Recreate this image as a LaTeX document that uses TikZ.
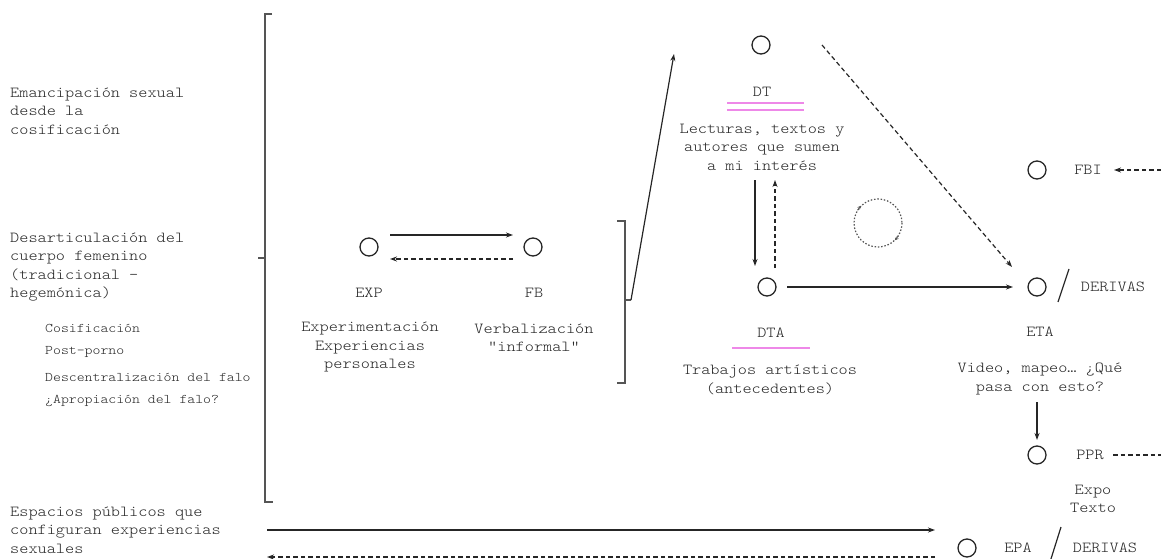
\documentclass[tikz,border=0pt]{standalone}
\usepackage{fontspec}
\setmainfont{Latin Modern Mono Light}[FakeStretch=1.14]
\usetikzlibrary{arrows.meta}
\definecolor{ink}{HTML}{262626}
\definecolor{brk}{HTML}{555555}
\definecolor{pink}{HTML}{EE88E8}
\begin{document}
\begin{tikzpicture}[x=1pt,y=-1pt,
  txt/.style={font=\fontsize{15.3}{18.4}\selectfont, text=ink, inner sep=0pt},
  sml/.style={font=\fontsize{13.2}{15}\selectfont, text=ink, inner sep=0pt, anchor=west},
  circ/.style={circle, draw=ink, minimum size=18pt, inner sep=0pt, line width=1.3pt},
  arr/.style={draw=ink, line width=1.2pt, -{Stealth[length=7pt,width=5pt]}},
  ln/.style={draw=ink, line width=1.2pt},
  dsh/.style={dash pattern=on 4.5pt off 3pt},
  brack/.style={draw=brk, line width=1.4pt},
  pinkln/.style={draw=pink, line width=2.2pt}]
\useasboundingbox (0,0) rectangle (1161,559);

% left texts
\node[txt, anchor=west, align=left] (eman) at (10,111) {Emancipación sexual\\desde la\\cosificación};
\node[txt, anchor=west, align=left] (desa) at (10,267) {Desarticulación del\\cuerpo femenino\\(tradicional -\\hegemónica)};
\node[sml] (s1) at (45,328) {Cosificación};
\node[sml] (s2) at (45,352) {Post-porno};
\node[sml] (s3) at (45,377) {Descentralización del falo};
\node[sml] (s4) at (45,401) {¿Apropiación del falo?};
\node[txt, anchor=west, align=left] (esp) at (10,530) {Espacios públicos que\\configuran experiencias\\sexuales};

% big bracket
\draw[brack] (272,14) -- (265,14) -- (265,502) -- (273,502);
\draw[brack] (258,258) -- (265,258);

% EXP / FB
\node[circ] (exp) at (369,247) {};
\node[circ] (fb) at (533,247) {};
\coordinate (e1) at (390,235); \coordinate (f1) at (513,235);
\coordinate (e2) at (390,259); \coordinate (f2) at (513,259);
\draw[arr] (e1) -- (f1);
\draw[arr, dsh] (f2) -- (e2);
\node[txt] (explab) at (369,293) {EXP};
\node[txt] (fblab) at (534,293) {FB};
\node[txt, align=center] (expt) at (370,347) {Experimentación\\Experiencias\\personales};
\node[txt, align=center] (fbt) at (534,338) {Verbalización\\“informal”};

% right bracket and arrow to DT
\draw[brack] (617,221) -- (625,221) -- (625,383) -- (617,383);
\coordinate (bm) at (625,300);
\coordinate (bt) at (631,300);
\coordinate (dtin) at (674,54);
\draw[brack] (bm) -- (bt);
\draw[arr] (bt) -- (dtin);

% DT
\node[circ] (dt) at (761,45) {};
\node[txt] (dtlab) at (762,92) {DT};
\draw[pinkln] (727,103) -- (804,103);
\draw[pinkln] (727,110) -- (804,110);
\node[txt, align=center] (dtt) at (762,147) {Lecturas, textos y\\autores que sumen\\a mi interés};

% DTA
\node[circ] (dta) at (767,287) {};
\coordinate (d1) at (755,180); \coordinate (d2) at (755,266);
\coordinate (u1) at (775,268); \coordinate (u2) at (775,180);
\draw[arr] (d1) -- (d2);
\draw[arr, dsh] (u1) -- (u2);
\node[txt] (dtalab) at (771,333) {DTA};
\draw[pinkln] (732,348) -- (810,348);
\node[txt, align=center] (dtat) at (770,380) {Trabajos artísticos\\(antecedentes)};

% cycle
\coordinate (cyc) at (878,223);
\draw[draw=brk, line width=1.2pt, dash pattern=on 1.5pt off 1.8pt] (cyc) circle[radius=24];
\draw[draw=brk, line width=0.8pt, -{Stealth[length=4pt,width=3.5pt]}] (cyc) ++(212:24) arc[start angle=212, end angle=226, radius=24];
\draw[draw=brk, line width=0.8pt, -{Stealth[length=4pt,width=3.5pt]}] (cyc) ++(32:24) arc[start angle=32, end angle=46, radius=24];

% ETA
\node[circ] (eta) at (1037,287) {};
\coordinate (a1) at (787,287); \coordinate (a2) at (1013,287);
\draw[arr] (a1) -- (a2);
\coordinate (dtout) at (822,45);
\coordinate (etain) at (1012,267);
\draw[arr, dsh] (dtout) -- (etain);
\draw[ln] (1069,269) -- (1058,302);
\node[txt] (der1) at (1113,287) {DERIVAS};
\node[txt] (etalab) at (1040,332) {ETA};
\node[txt, align=center] (etat) at (1040,379) {Video, mapeo… ¿Qué\\pasa con esto?};

% FBI
\node[circ] (fbi) at (1037,170) {};
\node[txt] (fbilab) at (1088,170) {FBI};
\coordinate (fbir) at (1161,170);
\coordinate (fbil) at (1114,170);
\draw[arr, dsh] (fbir) -- (fbil);

% PPR
\coordinate (v1) at (1037,402); \coordinate (v2) at (1037,440);
\draw[arr] (v1) -- (v2);
\node[circ] (ppr) at (1037,455) {};
\node[txt] (pprlab) at (1090,455) {PPR};
\coordinate (pp1) at (1113,455); \coordinate (pp2) at (1161,455);
\draw[ln, dsh] (pp1) -- (pp2);
\node[txt, align=center] (expo) at (1093,499) {Expo\\Texto};

% EPA
\node[circ] (epa) at (967,548) {};
\node[txt] (epalab) at (1018,548) {EPA};
\draw[ln] (1061,527) -- (1050,562);
\node[txt] (der2) at (1105,548) {DERIVAS};

% bottom arrows
\coordinate (b1) at (267,530); \coordinate (b2) at (935,530);
\coordinate (b3) at (935,557); \coordinate (b4) at (267,557);
\draw[arr] (b1) -- (b2);
\draw[arr, dsh] (b3) -- (b4);
\end{tikzpicture}
\end{document}
